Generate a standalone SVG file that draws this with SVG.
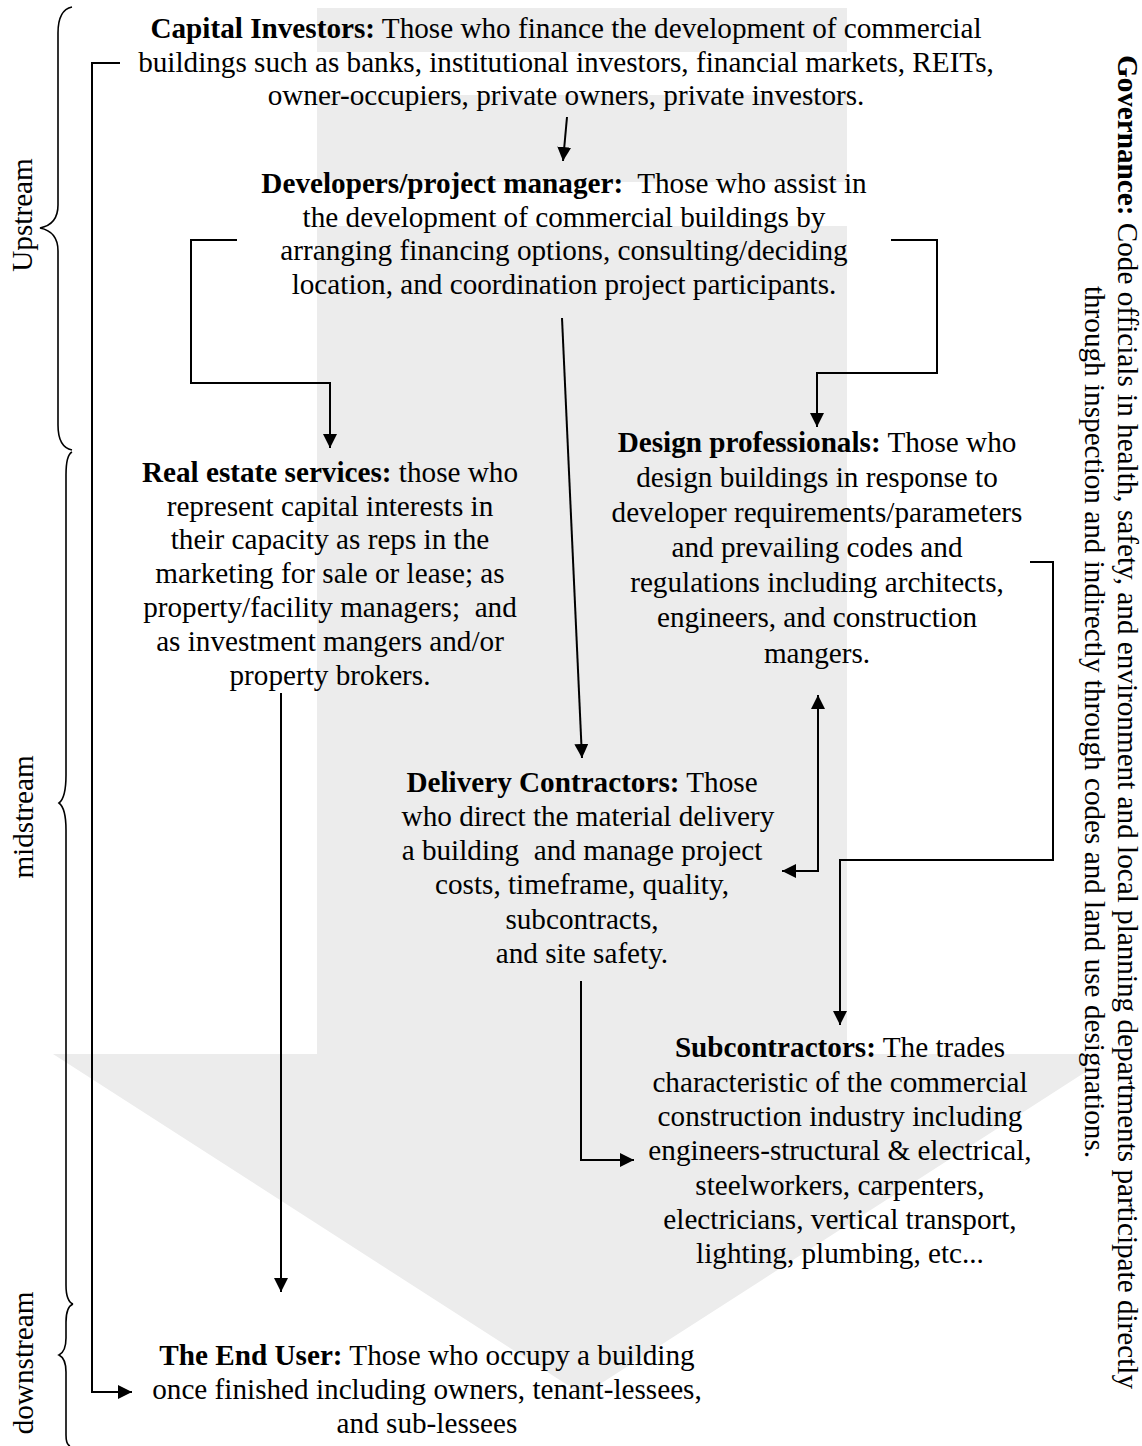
<svg xmlns="http://www.w3.org/2000/svg" width="1142" height="1446" viewBox="0 0 1142 1446">
<style>
.t{font-family:"Liberation Serif","Times New Roman",serif;font-size:29.2px;fill:#000;text-anchor:middle}
.b{font-weight:bold}
.c{fill:none;stroke:#000;stroke-width:2}
.br{fill:none;stroke:#000;stroke-width:1.6}
</style>
<defs>
<marker id="ah" viewBox="0 0 14 14" refX="14" refY="7" markerWidth="14" markerHeight="14" markerUnits="userSpaceOnUse" orient="auto-start-reverse"><path d="M0,0 L14,7 L0,14 Z" fill="#000"/></marker>
</defs>
<g id="background">
<path d="M317,8 H847 V1054 H1087 V1071 L583,1395 L53,1054 H317 Z" fill="#ececec"/>
<rect x="317" y="52" width="530" height="43" fill="#fff"/>
<rect x="317" y="182" width="530" height="44" fill="#fff"/>
</g>
<g id="stages">
<path class="br" d="M72,7 C62,9 58,18 58,33 L58,205 C58,220 50,226 40,228 C50,230 58,236 58,251 L58,425 C58,440 62,448 72,450"/>
<path class="br" d="M72,452 C68,454 66,462 66,475 L66,775 C66,790 63,800 59,803 C63,806 66,815 66,830 L66,1285 C66,1296 68,1302 73,1304"/>
<path class="br" d="M73,1304 C68,1306 66,1312 66,1322 L66,1338 C66,1349 63,1353 59,1355 C63,1357 66,1361 66,1372 L66,1435 C66,1442 67,1445 70,1446"/>
<text class="t" transform="translate(32,215) rotate(-90)">Upstream</text>
<text class="t" transform="translate(33,817) rotate(-90)">midstream</text>
<text class="t" transform="translate(33,1363) rotate(-90)">downstream</text>
</g>
<g id="capital-investors">
<text class="t" x="566" y="38"><tspan class="b">Capital Investors:</tspan> Those who finance the development of commercial</text>
<text class="t" x="566" y="72">buildings such as banks, institutional investors, financial markets, REITs,</text>
<text class="t" x="566" y="105">owner-occupiers, private owners, private investors.</text>
</g>
<g id="developers">
<text class="t" x="564" y="193" xml:space="preserve"><tspan class="b">Developers/project manager:</tspan>  Those who assist in</text>
<text class="t" x="564" y="226.5">the development of commercial buildings by</text>
<text class="t" x="564" y="260">arranging financing options, consulting/deciding</text>
<text class="t" x="564" y="293.5">location, and coordination project participants.</text>
</g>
<g id="real-estate-services">
<text class="t" x="330" y="482"><tspan class="b">Real estate services:</tspan> those who</text>
<text class="t" x="330" y="515.5">represent capital interests in</text>
<text class="t" x="330" y="549">their capacity as reps in the</text>
<text class="t" x="330" y="583">marketing for sale or lease; as</text>
<text class="t" x="330" y="617" xml:space="preserve">property/facility managers;  and</text>
<text class="t" x="330" y="651">as investment mangers and/or</text>
<text class="t" x="330" y="685">property brokers.</text>
</g>
<g id="design-professionals">
<text class="t" x="817" y="452"><tspan class="b">Design professionals:</tspan> Those who</text>
<text class="t" x="817" y="487">design buildings in response to</text>
<text class="t" x="817" y="522">developer requirements/parameters</text>
<text class="t" x="817" y="557">and prevailing codes and</text>
<text class="t" x="817" y="592">regulations including architects,</text>
<text class="t" x="817" y="627">engineers, and construction</text>
<text class="t" x="817" y="663">mangers.</text>
</g>
<g id="delivery-contractors">
<text class="t" x="582" y="792"><tspan class="b">Delivery Contractors:</tspan> Those</text>
<text class="t" x="588" y="826">who direct the material delivery</text>
<text class="t" x="582" y="860" xml:space="preserve">a building  and manage project</text>
<text class="t" x="582" y="894">costs, timeframe, quality,</text>
<text class="t" x="582" y="929">subcontracts,</text>
<text class="t" x="582" y="963">and site safety.</text>
</g>
<g id="subcontractors">
<text class="t" x="840" y="1057"><tspan class="b">Subcontractors:</tspan> The trades</text>
<text class="t" x="840" y="1091.5">characteristic of the commercial</text>
<text class="t" x="840" y="1126">construction industry including</text>
<text class="t" x="840" y="1160">engineers-structural &amp; electrical,</text>
<text class="t" x="840" y="1194.5">steelworkers, carpenters,</text>
<text class="t" x="840" y="1229">electricians, vertical transport,</text>
<text class="t" x="840" y="1263">lighting, plumbing, etc...</text>
</g>
<g id="end-user">
<text class="t" x="427" y="1365"><tspan class="b">The End User:</tspan> Those who occupy a building</text>
<text class="t" x="427" y="1399">once finished including owners, tenant-lessees,</text>
<text class="t" x="427" y="1433">and sub-lessees</text>
</g>
<g id="governance">
<text class="t" transform="translate(1118,722) rotate(90)"><tspan class="b">Governance:</tspan> Code officials in health, safety, and environment and local planning departments participate directly</text>
<text class="t" transform="translate(1085,722) rotate(90)">through inspection and indirectly through codes and land use designations.</text>
</g>
<g id="connectors">
<path class="c" marker-end="url(#ah)" d="M567,117 L563,161"/>
<path class="c" marker-end="url(#ah)" d="M237,240 H191 V383 H330 V448"/>
<path class="c" marker-end="url(#ah)" d="M891,240 H937 V373 H817 V427"/>
<path class="c" marker-end="url(#ah)" d="M562,318 L582,758"/>
<path class="c" marker-start="url(#ah)" marker-end="url(#ah)" d="M818,695 V871 H782"/>
<path class="c" marker-end="url(#ah)" d="M1030,562 H1053 V860 H840 V1025"/>
<path class="c" marker-end="url(#ah)" d="M581,981 V1160 H634"/>
<path class="c" marker-end="url(#ah)" d="M281,693 V1292"/>
<path class="c" marker-end="url(#ah)" d="M120,63 H92 V1392 H132"/>
</g>
</svg>
